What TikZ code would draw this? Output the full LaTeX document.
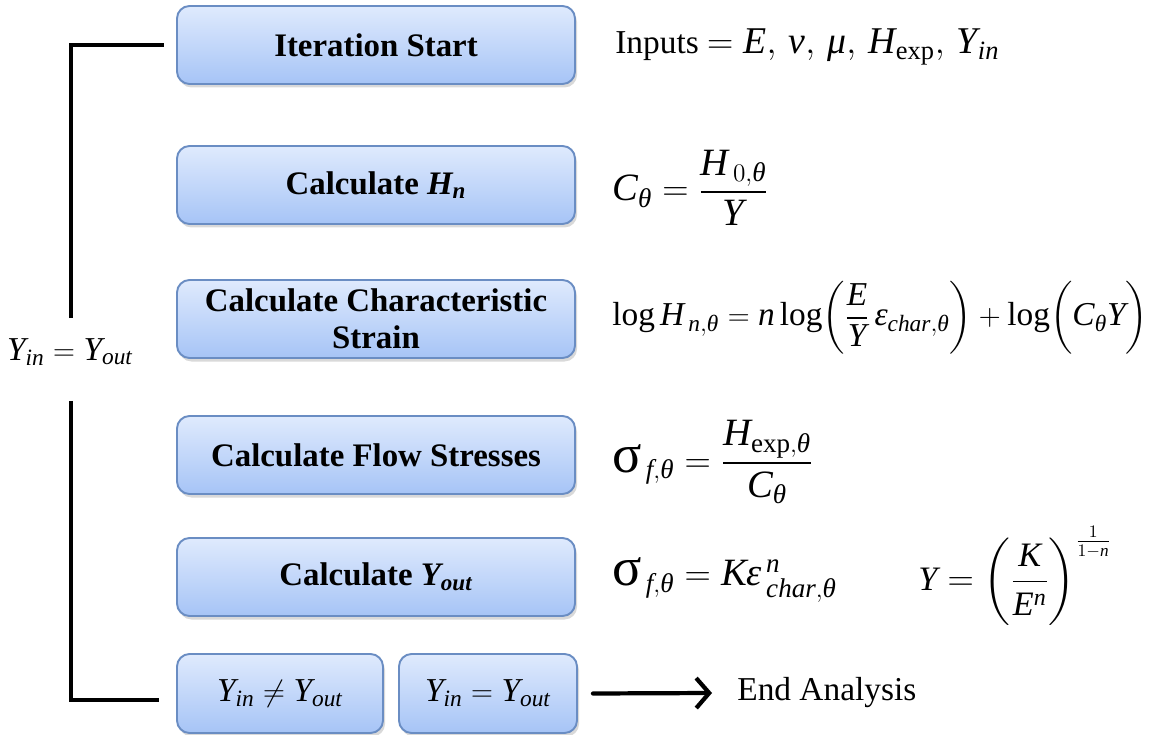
\documentclass[tikz,border=0pt]{standalone}
\usepackage{amsmath}
\usepackage{fontspec}
\IfFontExistsTF{LiberationSerif-Regular.ttf}
  {\setmainfont{LiberationSerif}[Extension=.ttf,UprightFont=*-Regular,BoldFont=*-Bold,
     ItalicFont=*-Italic,BoldItalicFont=*-BoldItalic,NFSSFamily=lsr]}
  {\setmainfont{Liberation Serif}[NFSSFamily=lsr]}
\usetikzlibrary{arrows.meta,shadows}

% Times-like letters in math
\DeclareSymbolFont{tletters}{TU}{lsr}{m}{it}
\SetSymbolFont{tletters}{bold}{TU}{lsr}{\bfdefault}{it}
\DeclareSymbolFont{tdigits}{TU}{lsr}{m}{n}
\SetSymbolFont{tdigits}{bold}{TU}{lsr}{\bfdefault}{n}
\makeatletter
\count@=65
\loop \Umathcode\count@="7 \symtletters \count@ \advance\count@\@ne \ifnum\count@<91 \repeat
\count@=97
\loop \Umathcode\count@="7 \symtletters \count@ \advance\count@\@ne \ifnum\count@<123 \repeat
\count@=48
\loop \Umathcode\count@="7 \symtdigits \count@ \advance\count@\@ne \ifnum\count@<58 \repeat
\makeatother
\Umathchardef\theta="0 \symtletters "03B8
\Umathchardef\varepsilon="0 \symtletters "03B5
\Umathchardef\nu="0 \symtletters "03BD
\Umathchardef\mu="0 \symtletters "03BC
\newcommand{\bsig}{\mathord{\text{\fontsize{31}{31}\selectfont σ}}}

\definecolor{boxtop}{HTML}{DFEAFD}
\definecolor{boxbot}{HTML}{A6C4F6}
\definecolor{boxline}{HTML}{6A8DC3}

\tikzset{
  stepbox/.style={draw=boxline,line width=1.1pt,rounded corners=0.25cm,
    top color=boxtop,bottom color=boxbot,minimum width=7.96cm,minimum height=1.56cm,
    align=center,font=\fontsize{18.7}{21}\selectfont\bfseries\boldmath,
    drop shadow={opacity=0.3,shadow xshift=0.04cm,shadow yshift=-0.07cm}},
  condbox/.style={stepbox,minimum height=1.58cm,font=\fontsize{19}{22}\selectfont},
  eqn/.style={anchor=west,inner sep=0pt,font=\fontsize{19}{22}\selectfont},
  bigeqn/.style={eqn,font=\fontsize{22}{26}\selectfont},
  loopline/.style={line width=2.8pt}
}

\begin{document}
\begin{tikzpicture}[>={Straight Barb[length=2.6mm,width=6mm]}]
\useasboundingbox (0,0) rectangle (23.24,-14.7);
% steps
\node[stepbox] (start) at (7.52,-0.9) {Iteration Start};
\node[stepbox] (hn) at (7.52,-3.7) {Calculate $H_n$};
\node[stepbox] (strain) at (7.52,-6.38) {Calculate Characteristic\\Strain};
\node[stepbox] (flow) at (7.52,-9.1) {Calculate Flow Stresses};
\node[stepbox] (yout) at (7.52,-11.54) {Calculate $Y_{out}$};
\node[condbox,minimum width=4.12cm] (neq) at (5.6,-13.87) {$Y_{in}\neq Y_{out}$};
\node[condbox,minimum width=3.56cm] (eq) at (9.76,-13.87) {$Y_{in}=Y_{out}$};
% equations
\node[eqn] (inputs) at (12.3,-0.94) {Inputs {\fontsize{21.5}{24}\selectfont$=E,\,\nu,\,\mu,\,H_{\mathrm{exp}},\,Y_{in}$}};
\node[bigeqn] (ctheta) at (12.24,-3.76) {$C_\theta=\dfrac{H_{\,0,\theta}}{Y}$};
\node[eqn] (loghn) at (12.24,-6.36) {$\log H_{\,n,\theta}=n\log\!\left(\dfrac{E}{Y}\,\varepsilon_{char,\theta}\right)+\log\!\bigg(C_\theta Y\bigg)$};
\node[bigeqn] (sigflow) at (12.24,-9.24) {${\bsig}_{\,f,\theta}=\dfrac{H_{\mathrm{exp},\theta}}{C_\theta}$};
\node[bigeqn] (sigk) at (12.24,-11.6) {${\bsig}_{\,f,\theta}=K\varepsilon^{\,n}_{\,char,\theta}$};
\node[eqn,font=\fontsize{19.5}{23}\selectfont] (yk) at (18.36,-11.52) {$Y=\left(\dfrac{K}{E^n}\right)^{\frac{1}{1-n}}$};
\node[eqn] (endtxt) at (14.74,-13.86) {End Analysis};
% loop
\node[eqn,anchor=center] (loop) at (1.4,-7.04) {$Y_{in}=Y_{out}$};
\draw[loopline] ([xshift=0.02cm,yshift=0.4cm]loop.north) |- ([xshift=-0.24cm]start.west);
\draw[loopline] ([xshift=0.02cm,yshift=-0.7cm]loop.south) |- ([xshift=-0.34cm,yshift=-0.13cm]neq.west);
\draw[->,line width=2.4pt,line cap=round] ([xshift=0.3cm]eq.east) -- ([xshift=-0.5cm]endtxt.west);
\end{tikzpicture}
\end{document}
